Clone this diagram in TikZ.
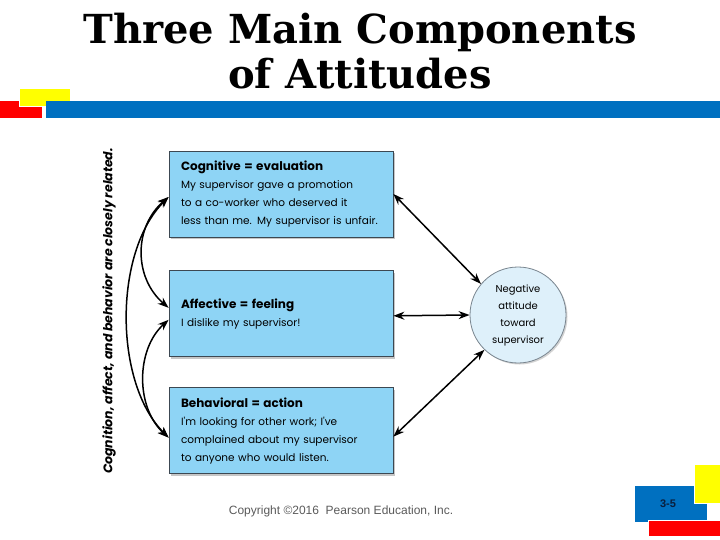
\documentclass[tikz,border=0pt]{standalone}
\usepackage{fontspec}
\setmainfont{DejaVu Serif}
\newfontfamily\boxfont{Poppins}
\newfontfamily\slidefont{Liberation Sans}
\usetikzlibrary{positioning, shadows, arrows.meta}
\definecolor{slideblue}{RGB}{0,112,192}
\definecolor{slidered}{RGB}{255,0,0}
\definecolor{slideyellow}{RGB}{255,255,0}
\definecolor{compfill}{RGB}{142,212,245}
\definecolor{compline}{RGB}{60,72,82}
\definecolor{attfill}{RGB}{222,240,250}
\definecolor{attline}{RGB}{120,132,142}
\definecolor{copygray}{RGB}{90,90,90}
\definecolor{numtext}{RGB}{10,30,60}

\begin{document}
\begin{tikzpicture}[
    x=1pt, y=-1pt,
    comp/.style={draw=compline, fill=compfill, line width=0.8pt, text width=200pt, inner xsep=12pt,
        minimum height=86pt, align=left, font=\boxfont\fontsize{10.5}{18}\selectfont,
        drop shadow={shadow xshift=2pt, shadow yshift=-2pt, opacity=0.45}},
    att/.style={circle, draw=attline, fill=attfill, line width=0.8pt, minimum size=96pt, inner sep=0pt,
        align=center, font=\boxfont\fontsize{10}{17}\selectfont,
        drop shadow={shadow xshift=1.5pt, shadow yshift=-1.5pt, opacity=0.35}},
    link/.style={{Stealth[length=11pt, width=8pt]}-{Stealth[length=11pt, width=8pt]}, line width=1.5pt},
    deco/.style={draw=white, line width=1pt}
]
\useasboundingbox (0,0) rectangle (720,540);

% ---------- Title ----------
\node[font=\bfseries\fontsize{40}{45}\selectfont, align=center] (title) at (360,51) {Three Main Components\\of Attitudes};

% ---------- Slide bars ----------
\fill[slidered] (0,101) rectangle (42,118);
\filldraw[fill=slideyellow, deco] (19,89) rectangle (70,107);
\fill[slideblue] (46,101) rectangle (720,118);

% ---------- Components ----------
\node[comp] (cog) at (281,194) {{\bfseries\fontsize{12}{18}\selectfont Cognitive = evaluation}\\My supervisor gave a promotion\\to a co-worker who deserved it\\less than me. My supervisor is unfair.};
\node[comp, below=33pt of cog] (aff) {{\bfseries\fontsize{12}{18}\selectfont Affective = feeling}\\I dislike my supervisor!};
\node[comp, below=30pt of aff] (beh) {{\bfseries\fontsize{12}{18}\selectfont Behavioral = action}\\I'm looking for other work; I've\\complained about my supervisor\\to anyone who would listen.};

\node[att] (attitude) at (518,315) {Negative\\attitude\\toward\\supervisor};

\node[rotate=90, font=\boxfont\bfseries\itshape\fontsize{12.5}{14}\selectfont] (related) at (109,311) {Cognition, affect, and behavior are closely related.};

% ---------- Connectors ----------
\draw[link] (cog.east) -- (attitude.140);
\draw[link] ([yshift=-2pt]aff.east) -- (attitude.west);
\draw[link] ([yshift=-6pt]beh.east) -- (attitude.226);

\draw[link] ([yshift=-3pt]cog.west) .. controls +(-35,30) and +(-35,-30) .. ([yshift=6pt]aff.west);
\draw[link] ([yshift=-3pt]cog.west) .. controls +(-55,55) and +(-55,-55) .. ([yshift=-7pt]beh.west);
\draw[link] ([yshift=-6pt]aff.west) .. controls +(-33,30) and +(-33,-30) .. ([yshift=-7pt]beh.west);

% ---------- Footer ----------
\node[font=\slidefont\fontsize{12}{14}\selectfont, text=copygray] (copyright) at (341,511) {Copyright \textcopyright2016\ \ Pearson Education, Inc.};

\filldraw[fill=slideblue, deco] (634,485) rectangle (707,522);
\filldraw[fill=slideyellow, deco] (694,464) rectangle (721,503);
\filldraw[fill=slidered, deco] (648,520) rectangle (721,536);
\node[font=\slidefont\bfseries\fontsize{11}{12}\selectfont, text=numtext] (pagenum) at (668,504) {3-5};
\end{tikzpicture}
\end{document}
